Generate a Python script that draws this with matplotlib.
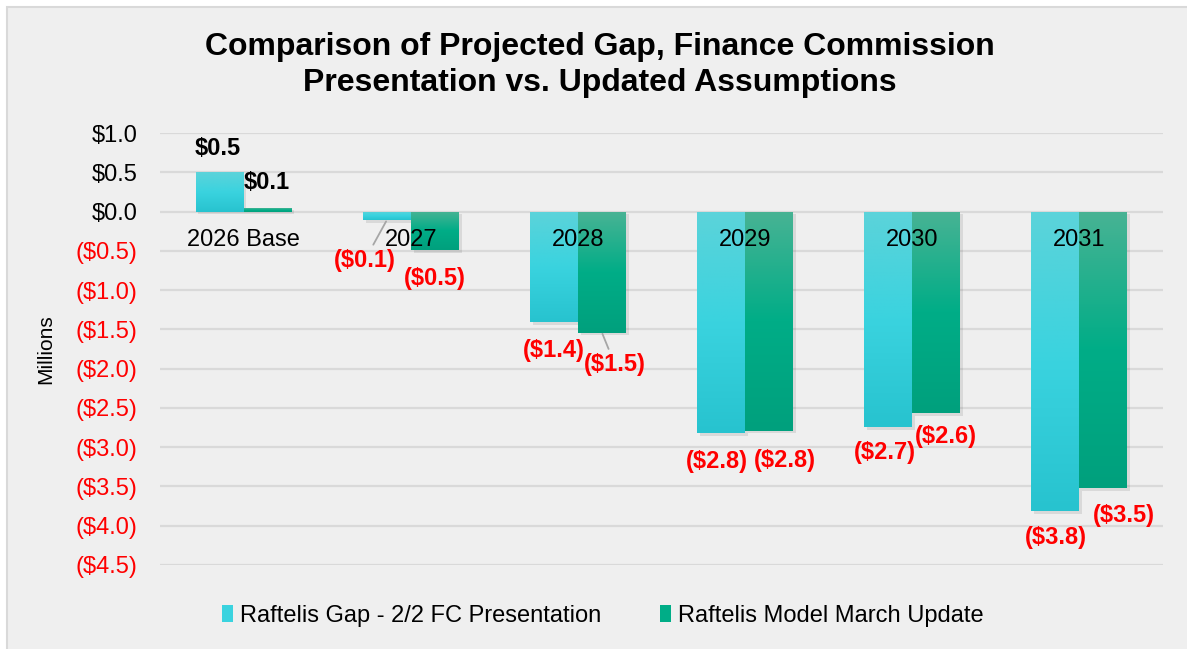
import numpy as np
import matplotlib
matplotlib.use('Agg')
import matplotlib.pyplot as plt
import matplotlib.patheffects as pe
from matplotlib.patches import Rectangle, Patch
from matplotlib.colors import LinearSegmentedColormap

plt.rcParams['font.family'] = ['Liberation Sans', 'DejaVu Sans']

# Data (millions)
categories = ['2026 Base', '2027', '2028', '2029', '2030', '2031']
fc_gap = [0.5, -0.11, -1.41, -2.82, -2.74, -3.81]
march_update = [0.05, -0.49, -1.54, -2.79, -2.57, -3.52]
fc_labels = ['$0.5', '($0.1)', '($1.4)', '($2.8)', '($2.7)', '($3.8)']
march_labels = ['$0.1', '($0.5)', '($1.5)', '($2.8)', '($2.6)', '($3.5)']
series_names = ['Raftelis Gap - 2/2 FC Presentation', 'Raftelis Model March Update']
y_ticks = [1.0, 0.5, 0.0, -0.5, -1.0, -1.5, -2.0, -2.5, -3.0, -3.5, -4.0, -4.5]

# label offsets in pixels (dx, dy from bar end), mimicking Excel's placement
fc_offsets = [(-2, 24), (-22, -40), (0, -28), (-4, -28), (-3, -26), (0, -27)]
march_offsets = [(-1, 25), (0, -28), (13, -32), (16, -30), (10, -23), (20, -27)]
fc_leader = [False, True, False, False, False, False]
march_leader = [False, False, True, False, False, False]

BG = '#efefef'
cyan_cmap = LinearSegmentedColormap.from_list('cy', ['#5cd3da', '#3ad3df', '#27c3cf'])
green_cmap = LinearSegmentedColormap.from_list('gr', ['#48b394', '#00ad87', '#00a07d'])

fig = plt.figure(figsize=(11.87, 6.49), dpi=100)
fig.patch.set_facecolor('white')
fig.patches.append(Rectangle((7 / 1187, -0.05), 1.1, 1.05 - 7 / 649,
                             transform=fig.transFigure, facecolor=BG,
                             edgecolor='#d9d9d9', linewidth=1.5, zorder=-10))

ax = fig.add_axes([160 / 1187, 1 - 565 / 649, 1003 / 1187, 432 / 649])
ax.set_facecolor('none')
for s in ax.spines.values():
    s.set_visible(False)

x = np.arange(len(categories))
w = 0.287
shadow = [pe.SimplePatchShadow(offset=(2, -2), alpha=0.12, shadow_rgbFace='#404040'), pe.Normal()]

grad = np.linspace(0, 1, 256).reshape(-1, 1)


def draw_bars(xpos, vals, cmap):
    bars = ax.bar(xpos, vals, w, color=cmap(0.5), zorder=3, linewidth=0)
    for b in bars:
        b.set_path_effects(shadow)
        x0 = b.get_x()
        y0, y1 = sorted([b.get_y(), b.get_y() + b.get_height()])
        im = ax.imshow(grad, extent=(x0, x0 + b.get_width(), y0, y1),
                       origin='upper', cmap=cmap, aspect='auto', zorder=4)
        im.set_clip_path(b)
    return bars


bars_fc = draw_bars(x - w / 2, fc_gap, cyan_cmap)
bars_mu = draw_bars(x + w / 2, march_update, green_cmap)

ax.set_xlim(-0.5, len(categories) - 0.5)
ax.set_ylim(-4.5, 1.0)
ax.set_yticks(y_ticks)
ax.set_yticklabels([f'${v:.1f}' if v >= 0 else f'(${-v:.1f})' for v in y_ticks])
for t, v in zip(ax.get_yticklabels(), y_ticks):
    t.set_color('black' if v >= 0 else '#ff0000')
ax.tick_params(axis='y', length=0, labelsize=17, pad=16)
ax.set_xticks([])
ax.grid(axis='y', color='#d9d9d9', linewidth=1.6, zorder=0)
ax.set_axisbelow(True)

ax.set_ylabel('Millions', fontsize=15)
ax.yaxis.set_label_coords(-0.104, 0.5)

# category labels sit just under the zero line
for i, c in enumerate(categories):
    ax.text(i, -0.36, c, ha='center', va='center', fontsize=17, zorder=6)


def label_bars(bars, labels, offsets, leaders):
    for b, lab, (dx, dy), ld in zip(bars, labels, offsets, leaders):
        val = b.get_height()
        xc = b.get_x() + b.get_width() / 2
        color = 'black' if val >= 0 else '#ff0000'
        kw = {}
        if ld:
            kw['arrowprops'] = dict(arrowstyle='-', color='#a6a6a6', lw=1.3,
                                    shrinkA=1, shrinkB=1)
        ax.annotate(lab, xy=(xc, val), xytext=(dx, dy), textcoords='offset pixels',
                    ha='center', va='center', fontsize=17, fontweight='bold',
                    color=color, zorder=7, **kw)


label_bars(bars_fc, fc_labels, fc_offsets, fc_leader)
label_bars(bars_mu, march_labels, march_offsets, march_leader)

fig.text(0.505, 1 - 65 / 649,
         'Comparison of Projected Gap, Finance Commission\nPresentation vs. Updated Assumptions',
         ha='center', va='center', fontsize=23, fontweight='bold', linespacing=1.25)

handles = [Patch(facecolor=cyan_cmap(0.5)), Patch(facecolor=green_cmap(0.5))]
fig.legend(handles, series_names, loc='center', bbox_to_anchor=(0.508, 1 - 616 / 649),
           ncol=2, frameon=False, fontsize=17, handlelength=0.45, handleheight=0.75,
           handletextpad=0.3, columnspacing=2.5)

fig.savefig('out.png', dpi=100, facecolor=fig.get_facecolor())
